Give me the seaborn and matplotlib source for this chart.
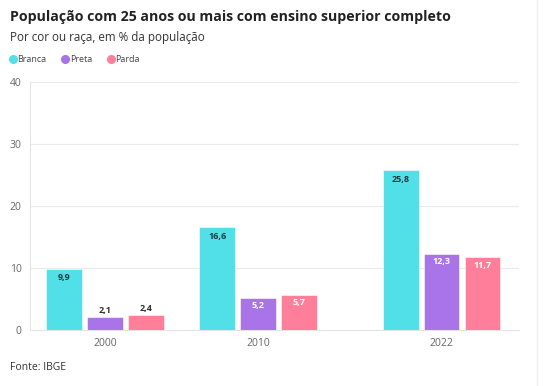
import pandas as pd
import matplotlib.pyplot as plt
import seaborn as sns
from matplotlib.lines import Line2D

anos = [2000, 2010, 2022]
branca = [9.9, 16.6, 25.8]
preta = [2.1, 5.2, 12.3]
parda = [2.4, 5.7, 11.7]
grupos = ['Branca', 'Preta', 'Parda']
cores = ['#52E0E8', '#A874E8', '#FF7F9A']
yticks = [0, 10, 20, 30, 40]

df = pd.DataFrame({
    'ano': anos * 3,
    'valor': branca + preta + parda,
    'cor': [g for g in grupos for _ in anos],
})

sns.set_theme(style='white')
plt.rcParams['font.family'] = ['Open Sans', 'DejaVu Sans']

fig = plt.figure(figsize=(5.51, 3.86), dpi=100)
ax = fig.add_axes([30 / 551, 1 - 330 / 386, 489 / 551, 248 / 386])

sns.barplot(data=df, x='ano', y='valor', hue='cor', hue_order=grupos,
            palette=cores, native_scale=True, width=0.8, gap=0.13,
            saturation=1, ax=ax, legend=False, zorder=3)

ax.set_xlim(1995.1, 2027.06)
ax.set_ylim(0, 40)
ax.set_yticks(yticks)
ax.set_xticks(anos)
ax.set_xticklabels([str(a) for a in anos])
ax.set_xlabel('')
ax.set_ylabel('')
ax.tick_params(axis='both', labelsize=7.5, colors='#dddddd')
ax.tick_params(axis='x', length=3, width=0.8, pad=3)
ax.tick_params(axis='y', length=0, pad=6)
for lab in ax.get_xticklabels() + ax.get_yticklabels():
    lab.set_color('#666666')
ax.grid(axis='y', color='#ebebeb', linewidth=0.8, zorder=0)
for s in ['top', 'right']:
    ax.spines[s].set_visible(False)
for s in ['left', 'bottom']:
    ax.spines[s].set_color('#e4e4e4')
    ax.spines[s].set_linewidth(0.8)

# rótulos de valor
for i, cont in enumerate(ax.containers):
    for bar in cont:
        h = bar.get_height()
        bar.set_edgecolor('white')
        bar.set_linewidth(0.4)
        txt = f'{h:.1f}'.replace('.', ',')
        x = bar.get_x() + bar.get_width() / 2
        if i == 0:
            ax.annotate(txt, (x, h), xytext=(0, -6.5), textcoords='offset points',
                        ha='center', va='center', fontsize=6.5, fontweight='bold',
                        color='#1f3a40', zorder=5)
        elif h > 4:
            ax.annotate(txt, (x, h), xytext=(0, -5.5), textcoords='offset points',
                        ha='center', va='center', fontsize=6.5, fontweight='bold',
                        color='white', zorder=5)
        else:
            ax.annotate(txt, (x, h), xytext=(0, 5), textcoords='offset points',
                        ha='center', va='center', fontsize=6.5, fontweight='bold',
                        color='#333333', zorder=5)

fig.text(10 / 551, 1 - 17 / 386, 'População com 25 anos ou mais com ensino superior completo',
         fontsize=10.2, fontweight='bold', color='#222222', va='center', ha='left')
fig.text(10 / 551, 1 - 37 / 386, 'Por cor ou raça, em % da população',
         fontsize=8.4, color='#333333', va='center', ha='left')
fig.text(10 / 551, 1 - 368 / 386, 'Fonte: IBGE', fontsize=7.5, color='#333333',
         va='center', ha='left')

handles = [Line2D([], [], marker='o', linestyle='', markersize=5.5,
                  markerfacecolor=c, markeredgecolor=c) for c in cores]
fig.legend(handles, grupos, loc='center left', bbox_to_anchor=(0 / 551, 1 - 60 / 386),
           ncol=3, frameon=False, fontsize=6.5, handletextpad=0.0,
           columnspacing=1.6, labelcolor='#444444', handlelength=1.0)

fig.add_artist(Line2D([537 / 551, 537 / 551], [0, 1], color='#eeeeee', linewidth=1))

fig.savefig('out.png', dpi=100)
